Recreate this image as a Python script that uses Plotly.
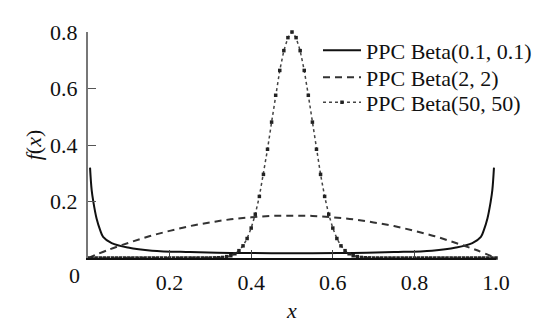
import plotly.graph_objects as go

# Beta(0.1, 0.1) posterior predictive
x_a = [0.005, 0.009, 0.013, 0.021, 0.03, 0.037, 0.058, 0.098, 0.157, 0.25, 0.35, 0.45, 0.5,
       0.55, 0.65, 0.75, 0.843, 0.902, 0.942, 0.963, 0.97, 0.979, 0.987, 0.991, 0.995]
y_a = [0.32, 0.24, 0.20, 0.14, 0.098, 0.075, 0.053, 0.037, 0.026, 0.021, 0.018, 0.017, 0.017,
       0.017, 0.018, 0.021, 0.026, 0.037, 0.053, 0.075, 0.098, 0.14, 0.20, 0.24, 0.32]

# Beta(2, 2)
x_b = [0.0, 0.05, 0.1, 0.15, 0.2, 0.25, 0.3, 0.35, 0.4, 0.45, 0.5,
       0.55, 0.6, 0.65, 0.7, 0.75, 0.8, 0.85, 0.9, 0.95, 1.0]
y_b = [0.0, 0.029, 0.054, 0.077, 0.096, 0.113, 0.126, 0.137, 0.144, 0.149, 0.15,
       0.149, 0.144, 0.137, 0.126, 0.113, 0.096, 0.077, 0.054, 0.029, 0.0]

# Beta(50, 50), sampled every 0.01
x_c = [i / 100 for i in range(101)]
y_c_mid = [0.0, 0.0005, 0.001, 0.002, 0.005, 0.008, 0.015, 0.026, 0.043, 0.069, 0.106,
           0.155, 0.218, 0.296, 0.385, 0.481, 0.576, 0.664, 0.734, 0.780, 0.80,
           0.780, 0.734, 0.664, 0.576, 0.481, 0.385, 0.296, 0.218, 0.155, 0.106,
           0.069, 0.043, 0.026, 0.015, 0.008, 0.005, 0.002, 0.001, 0.0005, 0.0]
y_c = [0.0] * 30 + y_c_mid + [0.0] * 30

names = ["PPC Beta(0.1, 0.1)", "PPC Beta(2, 2)", "PPC Beta(50, 50)"]
x_ticks = [0, 0.2, 0.4, 0.6, 0.8, 1.0]
x_ticktext = ["", "0.2", "0.4", "0.6", "0.8", "1.0"]
y_ticks = [0.2, 0.4, 0.6, 0.8]
y_ticktext = ["0.2", "0.4", "0.6", "0.8"]

FONT = "Liberation Serif, Times New Roman, Times, DejaVu Serif, serif"

L, R, T, B = 80, 61, 19, 60
W, H = 549, 323
PW, PH = W - L - R, H - T - B

fig = go.Figure()
fig.add_trace(go.Scatter(x=x_a, y=y_a, mode="lines", name=names[0], legend="legend",
                         line=dict(color="#111111", width=2, shape="spline"), cliponaxis=False))
fig.add_trace(go.Scatter(x=x_b, y=y_b, mode="lines", name=names[1], legend="legend2",
                         line=dict(color="#333333", width=2, dash="7px,5px", shape="spline"),
                         cliponaxis=False))
fig.add_trace(go.Scatter(x=x_c, y=y_c, mode="lines+markers", name=names[2], legend="legend3",
                         line=dict(color="#444444", width=1.5, dash="dot"),
                         marker=dict(color="#222222", size=3.5, symbol="square"),
                         cliponaxis=False))


def leg(row_y):
    return dict(x=(310 - L) / PW, y=1 - (row_y - T) / PH, xanchor="left", yanchor="middle",
                bgcolor="rgba(0,0,0,0)", font=dict(family=FONT, size=22, color="#111111"),
                itemwidth=38, borderwidth=0)


fig.update_layout(
    width=W, height=H,
    margin=dict(l=L, r=R, t=T, b=B),
    paper_bgcolor="white", plot_bgcolor="white",
    font=dict(family=FONT, size=22, color="#111111"),
    showlegend=True,
    legend=leg(39), legend2=leg(68), legend3=leg(95),
    xaxis=dict(range=[0, 1], tickvals=x_ticks, ticktext=x_ticktext,
               ticks="inside", ticklen=8, tickwidth=1, tickcolor="#444444",
               showline=True, linecolor="#111111", linewidth=2,
               showgrid=False, zeroline=False, ticklabelstandoff=4,
               title=dict(text="<i>x</i>", font=dict(family=FONT, size=22), standoff=8)),
    yaxis=dict(range=[0, 0.8], tickvals=y_ticks, ticktext=y_ticktext,
               ticks="inside", ticklen=8, tickwidth=1, tickcolor="#555555",
               showline=True, linecolor="#777777", linewidth=2,
               showgrid=False, zeroline=False, ticklabelstandoff=4,
               title=dict(text="<i>f</i>(<i>x</i>)", font=dict(family=FONT, size=22), standoff=2)),
    annotations=[dict(text="0", x=(66 - L) / PW, y=-(282 - (T + PH)) / PH,
                      xref="paper", yref="paper", showarrow=False,
                      xanchor="center", yanchor="middle",
                      font=dict(family=FONT, size=22))],
)

fig.write_html("out.html")
